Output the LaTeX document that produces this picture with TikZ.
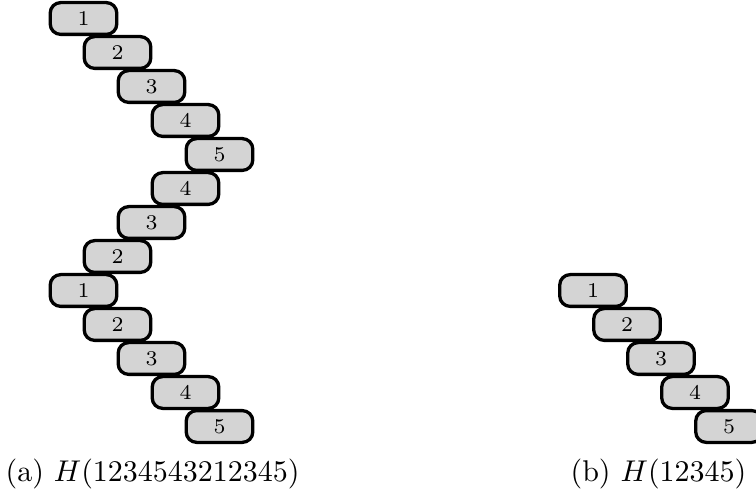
\documentclass[tikz,border=0pt]{standalone}
\begin{document}
\begin{tikzpicture}[x=0.33333pt,y=-0.33333pt,
  blk/.style={draw=black,fill=black!17,line width=1.1pt,rounded corners=3.5pt,
    minimum width=22.2pt,minimum height=10.6pt,inner sep=0pt,font=\scriptsize},
  captext/.style={anchor=base west,inner sep=0pt,font=\normalsize}]
\useasboundingbox (0,0) rectangle (756,501);
% column (a)
\foreach \d [count=\k from 0] in {1,2,3,4,5,4,3,2,1,2,3,4,5}{
  \node[blk] (a\k) at ({83.5+34*(\d-1)},{18.5+34*\k}) {\d};
}
% column (b)
\foreach \d [count=\k from 0] in {1,2,3,4,5}{
  \node[blk] (b\k) at ({593+34*(\d-1)},{290.5+34*\k}) {\d};
}
\node[captext] (capa) at (5,481) {(a) $H(1234543212345)$};
\node[captext] (capb) at (570,481) {(b) $H(12345)$};
\end{tikzpicture}
\end{document}
